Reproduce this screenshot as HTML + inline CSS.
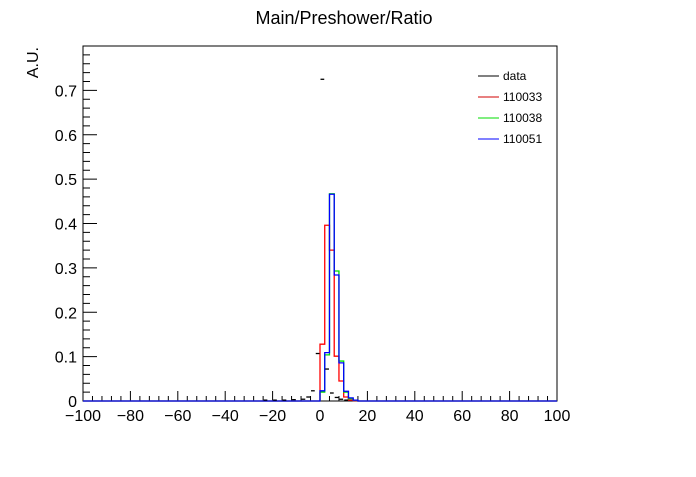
<!DOCTYPE html>
<html><head><meta charset="utf-8"><style>
body{margin:0;background:#fff;}
svg text{font-family:"Liberation Sans",sans-serif;}
</style></head><body>
<svg id="chart" width="696" height="472" xmlns="http://www.w3.org/2000/svg">
<text x="344" y="24" font-size="18" text-anchor="middle">Main/Preshower/Ratio</text>
<text x="38" y="47" font-size="16" text-anchor="end" transform="rotate(-90 38 47)">A.U.</text>
<rect x="83" y="46" width="474" height="355" fill="none" stroke="#000" stroke-width="1"/>
<g id="axes"></g>
<g id="series"></g>
<g font-size="12">
<line x1="478" y1="76" x2="499" y2="76" stroke="#000"/><text x="503" y="80">data</text>
<line x1="478" y1="97" x2="499" y2="97" stroke="#d00000"/><text x="503" y="101">110033</text>
<line x1="478" y1="118" x2="499" y2="118" stroke="#00dd00"/><text x="503" y="122">110038</text>
<line x1="478" y1="139" x2="499" y2="139" stroke="#0000ff"/><text x="503" y="143">110051</text>
</g>
</svg>
<script>
const binStart=[0,2,4,6,8,10,12,14];
const red=[0.128,0.396,0.34,0.101,0.045,0.009,0.002,0.001];
const green=[0.02,0.104,0.467,0.293,0.09,0.02,0.005,0.002];
const blue=[0.023,0.109,0.466,0.284,0.086,0.022,0.007,0.002];
const dataX=[-23,-19,-15,-11,-7,-5,-3,-1,1,3,5,7,9,11];
const dataY=[0.002,0.002,0.002,0.003,0.004,0.009,0.023,0.107,0.725,0.072,0.018,0.008,0.004,0.002];
const xTicks=[-100,-80,-60,-40,-20,0,20,40,60,80,100];
const yTicks=[0,0.1,0.2,0.3,0.4,0.5,0.6,0.7];
const X0=83,X1=557,Y0=401,Y1=46;
function sx(v){return X0+(v+100)/200*(X1-X0);}
function sy(v){return Y0-v/0.8*(Y0-Y1);}
const NS="http://www.w3.org/2000/svg";
const axes=document.getElementById('axes'),ser=document.getElementById('series');
function mk(tag,attrs,parent){const e=document.createElementNS(NS,tag);for(const k in attrs)e.setAttribute(k,attrs[k]);parent.appendChild(e);return e;}
for(let v=-100;v<=100;v+=4){const major=(v%20===0);
const t=mk('line',{x1:sx(v),x2:sx(v),y1:Y0,y2:Y0-(major?10:5),stroke:'#000'},axes);

}
xTicks.forEach(v=>{const t=mk('text',{x:sx(v),y:Y0+20,'font-size':16,'text-anchor':'middle'},axes);t.textContent=(v<0?'\u2212'+(-v):v);

});
for(let i=0;i<=40;i++){const v=i*0.02;if(v>0.8)break;const major=(i%5===0);
const t=mk('line',{x1:X0,x2:X0+(major?14:7),y1:sy(v),y2:sy(v),stroke:'#000'},axes);

}
yTicks.forEach(v=>{const t=mk('text',{x:X0-6,y:sy(v)+6,'font-size':16,'text-anchor':'end'},axes);t.textContent=(v===0?'0':v.toFixed(1));

});
function hist(vals,color,name){
let d='M'+sx(-100)+','+sy(0)+' L'+sx(binStart[0])+','+sy(0);
vals.forEach((v,i)=>{const a=binStart[i],b=a+2;d+=' L'+sx(a)+','+sy(v)+' L'+sx(b)+','+sy(v);});
d+=' L'+sx(binStart[binStart.length-1]+2)+','+sy(0)+' L'+sx(100)+','+sy(0);
const p=mk('path',{d:d,fill:'none',stroke:color,'stroke-width':1.3},ser);

}
hist(red,'#ff0000','hist-110033');
hist(green,'#00dd00','hist-110038');
hist(blue,'#0000ff','hist-110051');
dataX.forEach((x,i)=>{const m=mk('line',{x1:sx(x-1)+0.5,x2:sx(x+1)-0.5,y1:sy(dataY[i]),y2:sy(dataY[i]),stroke:'#000','stroke-width':1.3},ser);

});
</script>
</body></html>
